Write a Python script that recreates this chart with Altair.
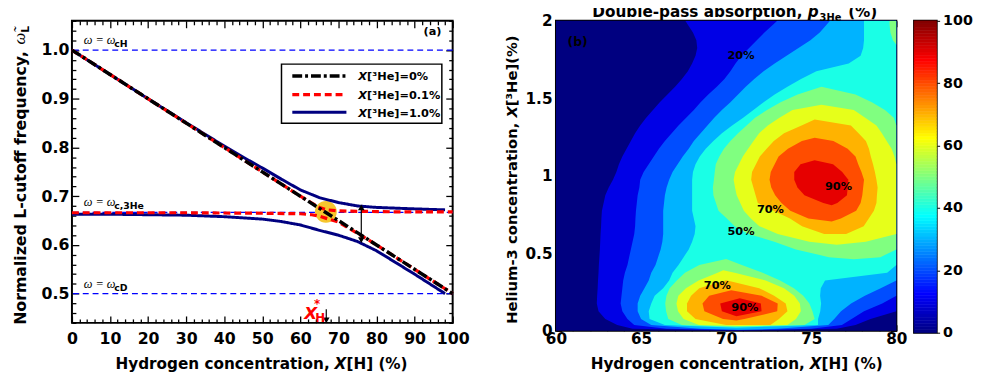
import altair as alt
import pandas as pd

FONT = "DejaVu Sans"
SERIF = "Liberation Serif"

# ================= Panel (a): normalized L-cutoff frequency =================
SERIES = ["X[³He]=0%", "X[³He]=0.1%", "X[³He]=1.0%"]
SERIES_LABEL_REST = ["[³He]=0%", "[³He]=0.1%", "[³He]=1.0%"]
SERIES_COLORS = ["#000000", "#FF0000", "#000080"]
SERIES_DASH = [[10, 3, 3, 3], [7, 4], [1, 0]]
SERIES_WIDTH = [3.5, 3.0, 1.8]

XH_BLACK = [0, 10, 20, 30, 40, 50, 60, 70, 80, 90, 100]
W_BLACK = [1.0, 0.95, 0.90, 0.85, 0.80, 0.75, 0.70, 0.65, 0.60, 0.55, 0.50]

XH_RED_UP = [0, 20, 40, 50, 60, 63, 65, 67, 70, 75, 85, 100]
W_RED_UP = [1.0, 0.90, 0.80, 0.75, 0.70, 0.686, 0.677, 0.672, 0.670, 0.669, 0.668, 0.668]
XH_RED_LO = [0, 30, 50, 60, 63, 65, 67, 70, 75, 80, 90, 100]
W_RED_LO = [0.666, 0.666, 0.665, 0.664, 0.662, 0.659, 0.654, 0.647, 0.624, 0.600, 0.550, 0.500]

XH_BLUE_UP = [0, 10, 20, 30, 40, 45, 50, 55, 60, 65, 70, 75, 80, 90, 98]
W_BLUE_UP = [1.0, 0.95, 0.90, 0.851, 0.803, 0.780, 0.758, 0.735, 0.713, 0.697, 0.687, 0.680, 0.677, 0.674, 0.672]
XH_BLUE_LO = [0, 10, 20, 30, 40, 50, 55, 60, 65, 70, 75, 80, 85, 90, 95, 98]
W_BLUE_LO = [0.663, 0.663, 0.662, 0.661, 0.658, 0.653, 0.648, 0.641, 0.630, 0.620, 0.607, 0.588, 0.564, 0.540, 0.515, 0.500]

REF_LEVELS = [1.0, 0.6667, 0.5]
REF_MAIN = ["ω = ω", "ω = ω", "ω = ω"]
REF_SUB = ["cH", "c,3He", "cD"]
REF_TEXT_X = [3.1, 3.1, 3.1]
REF_TEXT_Y = [1.012, 0.680, 0.512]

X_MAJOR_A = [0, 10, 20, 30, 40, 50, 60, 70, 80, 90, 100]
X_TICKS_A = list(range(0, 101, 2))
Y_MAJOR_A = [0.5, 0.6, 0.7, 0.8, 0.9, 1.0]
Y_TICKS_A = [round(0.44 + 0.02 * i, 2) for i in range(32)]

# ================= Panel (b): double-pass absorption contour bands =================
# scan lines: (y, "band@x_start ...")   band k = 10k..10(k+1) %
SCAN_LINES = [
    (2.000, "0@60 1@67.6 2@73.0 3@76.1 4@78.1 5@79.6"),
    (1.975, "0@60 1@67.75 2@72.75 3@75.9 4@78.1 5@79.6"),
    (1.925, "0@60 1@68.05 2@72.25 3@75.5 4@78.1 5@79.65"),
    (1.875, "0@60 1@68.25 2@71.8 3@74.95 4@78.1 5@79.8"),
    (1.825, "0@60 1@68.3 2@71.35 3@74.25 4@78.05"),
    (1.775, "0@60 1@68.2 2@70.9 3@73.55 4@77.9"),
    (1.725, "0@60 1@68.0 2@70.55 3@72.85 4@77.2"),
    (1.675, "0@60 1@67.75 2@70.25 3@72.2 4@75.3"),
    (1.625, "0@60 1@67.4 2@69.9 3@71.65 4@74.4"),
    (1.575, "0@60 1@67.0 2@69.45 3@71.15 4@73.6"),
    (1.525, "0@60 1@66.55 2@68.95 3@70.7 4@72.85 5@74.2 4@77.6"),
    (1.475, "0@60 1@66.1 2@68.5 3@70.25 4@72.2 5@73.2 4@78.56"),
    (1.425, "0@60 1@65.7 2@68.1 3@69.75 4@71.6 5@72.4 6@73.9 5@77.5 4@79.33"),
    (1.375, "0@60 1@65.3 2@67.65 3@69.3 4@71.0 5@71.7 6@73.13 5@78.17 4@79.85"),
    (1.325, "0@60 1@64.95 2@67.2 3@68.9 4@70.35 5@71.2 6@72.45 7@74.43 6@77.33 5@78.83"),
    (1.275, "0@60 1@64.65 2@66.8 3@68.5 4@69.75 5@70.7 6@71.94 7@73.4 6@77.78 5@79.15"),
    (1.225, "0@60 1@64.4 2@66.4 3@68.1 4@69.25 5@70.25 6@71.61 7@72.8 8@74.45 7@76.3 6@78.21 5@79.43"),
    (1.175, "0@60 1@64.15 2@66.05 3@67.8 4@68.8 5@69.87 6@71.29 7@72.38 8@73.63 7@77.14 6@78.39 5@79.72"),
    (1.125, "0@60 1@63.9 2@65.75 3@67.45 4@68.45 5@69.6 6@70.98 7@71.98 8@73.08 7@77.6 6@78.5 5@79.89"),
    (1.075, "0@60 1@63.7 2@65.45 3@67.15 4@68.2 5@69.39 6@70.75 7@71.75 8@72.85 9@74.37 8@76.28 7@77.76 6@78.63"),
    (1.025, "0@60 1@63.55 2@65.15 3@66.85 4@68.05 5@69.33 6@70.52 7@71.52 8@72.62 9@74.0 8@76.82 7@77.95 6@78.74"),
    (0.975, "0@60 1@63.35 2@64.95 3@66.65 4@68.0 5@69.28 6@70.44 7@71.47 8@72.55 9@74.0 8@77.18 7@78.1 6@78.83"),
    (0.925, "0@60 1@63.1 2@64.9 3@66.5 4@68.0 5@69.22 6@70.52 7@71.6 8@72.65 9@74.19 8@77.14 7@78.05 6@78.9"),
    (0.875, "0@60 1@62.9 2@64.8 3@66.4 4@68.0 5@69.25 6@70.62 7@71.73 8@72.88 9@74.6 8@77.1 7@78.0 6@78.86"),
    (0.825, "0@60 1@62.8 2@64.75 3@66.35 4@68.0 5@69.4 6@70.83 7@71.86 8@73.25 9@75.71 8@76.53 7@77.9 6@78.83"),
    (0.775, "0@60 1@62.7 2@64.7 3@66.3 4@68.0 5@69.55 6@71.04 7@72.78 8@73.77 7@77.64 6@78.68"),
    (0.725, "0@60 1@62.67 2@64.67 3@66.3 4@68.1 5@70.04 6@71.45 7@73.75 8@74.83 7@76.74 6@78.38"),
    (0.675, "0@60 1@62.65 2@64.65 3@66.3 4@68.2 5@70.5 6@71.95 7@74.46 6@78.08"),
    (0.625, "0@60 1@62.62 2@64.6 3@66.3 4@68.15 5@71.3 6@73.03 7@75.76 6@77.05"),
    (0.575, "0@60 1@62.6 2@64.5 3@66.25 4@68.0 5@72.83 6@74.89 5@78.2"),
    (0.525, "0@60 1@62.58 2@64.4 3@66.15 4@67.8 5@74.1"),
    (0.475, "0@60 1@62.55 2@64.3 3@66.0 4@67.5 5@76.04 4@79.06"),
    (0.425, "0@60 1@62.52 2@64.2 3@65.85 4@67.2 5@68.42 4@70.92"),
    (0.375, "0@60 1@62.5 2@64.05 3@65.6 4@66.85 5@67.58 6@69.5 5@70.5 4@72.14 3@79.46"),
    (0.325, "0@60 1@62.47 2@63.95 3@65.45 4@66.65 5@67.1 6@68.38 5@72.32 4@73.17 3@75.81"),
    (0.275, "0@60 1@62.45 2@63.9 3@65.2 4@66.3 5@66.68 6@67.64 7@68.42 6@71.94 5@73.4 4@73.98 3@75.56 2@79.08"),
    (0.225, "0@60 1@62.42 2@63.85 3@64.95 4@65.8 5@66.49 6@67.19 7@67.94 8@69.0 7@72.09 6@72.82 5@74.0 4@74.53 3@75.52 2@78.15"),
    (0.175, "0@60 1@62.4 2@63.8 3@64.8 4@65.6 5@66.42 6@67.08 7@67.7 8@68.61 9@69.65 8@72.04 7@73.03 6@73.5 5@74.33 4@74.89 3@75.58 2@77.34 1@79.17"),
    (0.125, "0@60 1@62.5 2@63.9 3@64.8 4@65.45 5@66.47 6@67.17 7@67.7 8@68.72 9@69.75 8@72.08 7@73.0 6@73.6 5@74.39 4@75.07 3@75.53 2@76.75 1@78.1"),
    (0.075, "0@60 1@62.9 2@64.2 3@65.0 4@65.5 5@66.6 6@67.5 7@68.2 8@69.82 7@71.07 6@73.1 5@74.1 4@75.2 3@75.4 2@76.35 1@77.37 0@78.48"),
    (0.0375, "0@60 1@63.6 2@64.6 3@65.6 4@66.4 5@67.4 6@68.4 7@70.0 6@72.6 5@73.6 4@74.6 3@75.4 2@76.0 1@76.8 0@77.6"),
    (0.0125, "0@60 1@64.5 2@66.5 3@68.5 2@73.0 1@75.0 0@76.5"),
]
# where a band region closes (level %, y, x)
CONTOUR_TIPS = [
    (10, 0.002, 70.5), (20, 0.004, 70.7), (30, 0.006, 70.7), (40, 0.02, 70.6),
    (50, 0.462, 77.5), (50, 1.575, 75.6), (50, 1.845, 80.0), (50, 0.463, 70.0), (50, 0.026, 70.5),
    (60, 1.458, 75.6), (60, 0.555, 76.5), (60, 0.39, 69.83), (60, 0.03, 70.8),
    (70, 1.363, 75.2), (70, 0.608, 76.4), (70, 0.326, 70.0), (70, 0.033, 71.3),
    (80, 1.246, 75.2), (80, 0.705, 76.2), (80, 0.262, 70.3), (80, 0.066, 70.6),
    (90, 1.10, 75.2), (90, 0.81, 76.2), (90, 0.21, 70.8), (90, 0.093, 70.6),
]

CLABEL_X = [70.87, 76.6, 72.6, 70.87, 69.48, 71.1]
CLABEL_Y = [1.77, 0.927, 0.78, 0.635, 0.286, 0.146]
CLABEL_T = ["20%", "90%", "70%", "50%", "70%", "90%"]

X_MAJOR_B = [60, 65, 70, 75, 80]
X_TICKS_B = list(range(60, 81))
Y_MAJOR_B = [0, 0.5, 1, 1.5, 2]
Y_TICKS_B = [round(0.1 * i, 1) for i in range(21)]

CB_VALUES = [0, 20, 40, 60, 80, 100]
CB_STEPS = list(range(100))

JET_STOPS = [0, 12.5, 37.5, 62.5, 87.5, 100]
JET_COLORS = ["#000080", "#0000FF", "#00FFFF", "#FFFF00", "#FF0000", "#800000"]

# ================= sizes =================
W_A, H_A = 387, 307
W_B, H_B = 346, 315
W_C, H_C = 23, 317

XS_A = alt.Scale(domain=[0, 100], nice=False, zero=False)
YS_A = alt.Scale(domain=[0.44, 1.06], nice=False, zero=False)
XS_B = alt.Scale(domain=[60, 80], nice=False, zero=False)
YS_B = alt.Scale(domain=[0, 2], nice=False, zero=False)
JET = alt.Scale(domain=JET_STOPS, range=JET_COLORS, interpolate="rgb")
SC_COLOR = alt.Scale(domain=SERIES, range=SERIES_COLORS)
SC_DASH = alt.Scale(domain=SERIES, range=SERIES_DASH)
SC_WIDTH = alt.Scale(domain=SERIES, range=SERIES_WIDTH)


def ptext(text, x, y, size, weight="bold", style="normal", font=FONT, align="left",
          baseline="alphabetic", angle=0, color="black"):
    return alt.Chart(pd.DataFrame({"t": [text]})).mark_text(
        font=font, fontSize=size, fontWeight=weight, fontStyle=style, align=align,
        baseline=baseline, angle=angle, color=color
    ).encode(x=alt.value(x), y=alt.value(y), text="t:N")


def tick_axis(orient, offset, values, test, major, minor):
    return alt.Axis(orient=orient, offset=offset, values=values, labels=False, domain=False,
                    grid=False, title=None, tickColor="black", tickWidth=1.3,
                    tickSize={"condition": {"test": test, "value": major}, "value": minor})


def axis_layer(df, xs, ys, xaxis, yaxis):
    return alt.Chart(df).mark_point(opacity=0).encode(
        x=alt.X("x:Q", scale=xs, axis=xaxis), y=alt.Y("y:Q", scale=ys, axis=yaxis))


# ---------------- panel (a) layers ----------------
line_rows = []
for name, seg, xs, ys in [
    (SERIES[2], "b_up", XH_BLUE_UP, W_BLUE_UP),
    (SERIES[2], "b_lo", XH_BLUE_LO, W_BLUE_LO),
    (SERIES[1], "r_up", XH_RED_UP, W_RED_UP),
    (SERIES[1], "r_lo", XH_RED_LO, W_RED_LO),
    (SERIES[0], "k", XH_BLACK, W_BLACK),
]:
    for xv, yv in zip(xs, ys):
        line_rows.append({"series": name, "seg": seg, "x": xv, "y": yv})
lines_df = pd.DataFrame(line_rows)

refs = alt.Chart(pd.DataFrame({"level": REF_LEVELS})).mark_rule(
    color="#0000FF", strokeWidth=1.3, strokeDash=[6, 4]
).encode(y=alt.Y("level:Q", scale=YS_A, axis=None))

circle = alt.Chart(pd.DataFrame({"x": [66.7], "y": [0.668]})).mark_point(
    filled=True, size=490, color="#F6C62E", opacity=1, shape="circle"
).encode(x=alt.X("x:Q", scale=XS_A, axis=None), y=alt.Y("y:Q", scale=YS_A, axis=None))


def series_lines(seg_names):
    return alt.Chart(lines_df).transform_filter(
        alt.FieldOneOfPredicate(field="seg", oneOf=seg_names)
    ).mark_line(strokeCap="butt").encode(
        x=alt.X("x:Q", scale=XS_A, axis=None),
        y=alt.Y("y:Q", scale=YS_A, axis=None),
        color=alt.Color("series:N", scale=SC_COLOR, legend=None),
        strokeDash=alt.StrokeDash("series:N", scale=SC_DASH, legend=None),
        strokeWidth=alt.StrokeWidth("series:N", scale=SC_WIDTH, legend=None),
        detail="seg:N",
    )


lines_blue = series_lines(["b_up", "b_lo"])
lines_red = series_lines(["r_up", "r_lo"])
lines_black = series_lines(["k"])

arrow_df = pd.DataFrame({"x": [76.0, 66.8], "y1": [0.674, 0.468], "y2": [0.613, 0.446]})
arrow_rules = alt.Chart(arrow_df).mark_rule(color="black", strokeWidth=1.2).encode(
    x=alt.X("x:Q", scale=XS_A, axis=None), y=alt.Y("y1:Q", scale=YS_A, axis=None), y2="y2:Q")
heads_df = pd.DataFrame({"x": [76.0, 76.0, 66.8], "y": [0.677, 0.610, 0.445],
                         "shape": ["triangle-up", "triangle-down", "triangle-down"]})
arrow_heads = alt.Chart(heads_df).mark_point(filled=True, size=45, color="black", opacity=1,
                                             strokeWidth=0).encode(
    x=alt.X("x:Q", scale=XS_A, axis=None), y=alt.Y("y:Q", scale=YS_A, axis=None),
    shape=alt.Shape("shape:N", scale=None))

ref_txt_df = pd.DataFrame({"x": REF_TEXT_X, "y": REF_TEXT_Y, "main": REF_MAIN, "sub": REF_SUB})
omega_main = alt.Chart(ref_txt_df).mark_text(
    font=SERIF, fontStyle="italic", fontSize=12.5, align="left", baseline="alphabetic", color="black"
).encode(x=alt.X("x:Q", scale=XS_A, axis=None), y=alt.Y("y:Q", scale=YS_A, axis=None), text="main:N")
omega_sub = alt.Chart(ref_txt_df).mark_text(
    font=FONT, fontWeight="bold", fontSize=9.5, align="left", baseline="alphabetic", color="black",
    dx=31, dy=3
).encode(x=alt.X("x:Q", scale=XS_A, axis=None), y=alt.Y("y:Q", scale=YS_A, axis=None), text="sub:N")

ann_df = pd.DataFrame({
    "x": [94.7, 61.0, 63.9, 63.6],
    "y": [1.036, 0.448, 0.4415, 0.478],
    "t": ["(a)", "X", "H", "*"],
    "c": ["black", "#FF0000", "#FF0000", "#FF0000"],
    "s": [11.5, 17, 12, 12],
    "st": ["normal", "italic", "normal", "normal"],
    "al": ["center", "left", "left", "left"],
    "bl": ["middle", "alphabetic", "alphabetic", "middle"],
})
ann_layers = []
for _, r in ann_df.iterrows():
    ann_layers.append(
        alt.Chart(pd.DataFrame([r])).mark_text(
            font=FONT, fontWeight="bold", fontSize=float(r["s"]), fontStyle=r["st"],
            align=r["al"], baseline=r["bl"], color=r["c"]
        ).encode(x=alt.X("x:Q", scale=XS_A, axis=None), y=alt.Y("y:Q", scale=YS_A, axis=None), text="t:N")
    )

# legend box (drawn by hand, inside the plot area)
LEG_X0, LEG_X1, LEG_Y0, LEG_Y1 = 213, 376, 44, 104
LEG_ROW_Y = [56, 75, 93]
legend_box = alt.Chart(pd.DataFrame({"a": [0]})).mark_rect(
    fill="white", stroke="black", strokeWidth=1.5
).encode(x=alt.value(LEG_X0), x2=alt.value(LEG_X1), y=alt.value(LEG_Y0), y2=alt.value(LEG_Y1))
legend_items = []
for i, name in enumerate(SERIES):
    legend_items.append(
        alt.Chart(pd.DataFrame({"series": [name]})).mark_rule(strokeCap="butt").encode(
            x=alt.value(224), x2=alt.value(279), y=alt.value(LEG_ROW_Y[i]),
            color=alt.Color("series:N", scale=SC_COLOR, legend=None),
            strokeDash=alt.StrokeDash("series:N", scale=SC_DASH, legend=None),
            strokeWidth=alt.StrokeWidth("series:N", scale=SC_WIDTH, legend=None),
        )
    )
    legend_items.append(ptext("X", 291, LEG_ROW_Y[i] + 4.5, 11.5, style="italic"))
    legend_items.append(ptext(SERIES_LABEL_REST[i], 300, LEG_ROW_Y[i] + 4.5, 11.5))

axdf_a = pd.DataFrame({"x": [0, 100], "y": [0.44, 1.06]})
ax_a_lab = axis_layer(
    axdf_a, XS_A, YS_A,
    alt.Axis(orient="bottom", values=X_MAJOR_A, format="d", ticks=False, domain=False, grid=False,
             labelFlush=False, labelOverlap=False, labelPadding=8, title=None),
    alt.Axis(orient="left", values=Y_MAJOR_A, format=".1f", ticks=False, domain=False, grid=False,
             labelOverlap=False, labelPadding=3, title=None))
ax_a_in1 = axis_layer(
    axdf_a, XS_A, YS_A,
    tick_axis("top", -H_A, X_TICKS_A, "datum.value % 10 === 0", 7, 4),
    tick_axis("right", -W_A, Y_TICKS_A, "abs(datum.value*10 - round(datum.value*10)) < 0.001", 7, 4))
ax_a_in2 = axis_layer(
    axdf_a, XS_A, YS_A,
    tick_axis("bottom", -H_A, X_TICKS_A, "datum.value % 10 === 0", 7, 4),
    tick_axis("left", -W_A, Y_TICKS_A, "abs(datum.value*10 - round(datum.value*10)) < 0.001", 7, 4))

titles_a = [
    ptext("Hydrogen concentration,", 262, 354, 15.5, align="right"),
    ptext("X", 267, 354, 15.5, style="italic"),
    ptext("[H] (%)", 279, 354, 15.5),
    ptext("Normalized L-cutoff frequency,", -52, 309, 16, angle=270, baseline="middle"),
    ptext("ω\u0303", -53, 24, 17, weight="normal", style="italic", font=SERIF, angle=270, baseline="middle"),
    ptext("L", -47, 12, 11, angle=270, baseline="middle"),
]

panel_a = alt.layer(
    refs, circle, lines_blue, lines_red, lines_black, arrow_rules, arrow_heads,
    omega_main, omega_sub, *ann_layers, legend_box, *legend_items, *titles_a,
    ax_a_lab, ax_a_in1, ax_a_in2
).resolve_axis(x="independent", y="independent").properties(width=W_A, height=H_A)

# ---------------- panel (b): filled contour regions ----------------
scan = []
for yv, spec in SCAN_LINES:
    parts = [p.split("@") for p in spec.split()]
    runs = []
    for i, (band, xs0) in enumerate(parts):
        x0 = float(xs0)
        x1 = float(parts[i + 1][1]) if i + 1 < len(parts) else 80.0
        runs.append((int(band), x0, x1))
    scan.append((yv, runs))
scan.sort(key=lambda s: -s[0])

# region "value >= level" of each band, one connected piece at a time
components = []
for k in range(1, 10):
    open_comps = []
    for yv, runs in scan:
        ivs = []
        for band, x0, x1 in runs:
            if band >= k:
                if ivs and abs(ivs[-1][1] - x0) < 1e-9:
                    ivs[-1][1] = x1
                else:
                    ivs.append([x0, x1])
        new_open = []
        for xl, xr in ivs:
            match = None
            for c in open_comps:
                _, pl, pr = c["pts"][-1]
                if xl <= pr and xr >= pl and c not in new_open:
                    match = c
                    break
            if match is None:
                match = {"level": k * 10, "pts": []}
                components.append(match)
            match["pts"].append((yv, xl, xr))
            new_open.append(match)
        open_comps = new_open

for lev, ty, tx in CONTOUR_TIPS:
    best, bestd = None, 1e9
    for c in components:
        if c["level"] != lev:
            continue
        ys_c = [p[0] for p in c["pts"]]
        end = c["pts"][-1] if abs(ty - min(ys_c)) < abs(ty - max(ys_c)) else c["pts"][0]
        if not (end[1] - 1.0 <= tx <= end[2] + 1.0):
            continue
        d = abs(ty - end[0])
        if d < bestd:
            best, bestd = c, d
    if best is not None:
        best["pts"].append((ty, tx, tx))

# outline of each piece: down the left edge, back up the right edge
poly_rows = []
for ci, c in enumerate(components):
    pts = sorted(c["pts"], key=lambda p: -p[0])
    seq = [(xl, yv) for yv, xl, xr in pts]
    for j, (yv, xl, xr) in enumerate(reversed(pts)):
        is_end = (j == 0) or (j == len(pts) - 1)
        if is_end and abs(xl - xr) < 1e-9:
            continue
        seq.append((xr, yv))
    for j, (xv, yv) in enumerate(seq):
        poly_rows.append({"comp": ci, "level": c["level"], "i": j, "x": xv, "y": yv})
poly_df = pd.DataFrame(poly_rows)

base = alt.Chart(pd.DataFrame({"x0": [60], "x1": [80], "y0": [0], "y1": [2], "level": [0]})).mark_rect().encode(
    x=alt.X("x0:Q", scale=XS_B, axis=None), x2="x1:Q",
    y=alt.Y("y0:Q", scale=YS_B, axis=None), y2="y1:Q",
    color=alt.Color("level:Q", scale=JET, legend=None),
)

band_layers = []
for k in range(1, 10):
    band_layers.append(
        alt.Chart(poly_df).transform_filter(alt.datum.level == k * 10).mark_line(
            filled=True, interpolate="linear-closed", clip=True, strokeWidth=0
        ).encode(
            x=alt.X("x:Q", scale=XS_B, axis=None),
            y=alt.Y("y:Q", scale=YS_B, axis=None),
            color=alt.Color("level:Q", scale=JET, legend=None),
            detail="comp:N",
            order=alt.Order("i:Q"),
        )
    )

clabels = alt.Chart(pd.DataFrame({"x": CLABEL_X, "y": CLABEL_Y, "t": CLABEL_T})).mark_text(
    font=FONT, fontWeight="bold", fontSize=11.5, color="black", align="center", baseline="middle"
).encode(x=alt.X("x:Q", scale=XS_B, axis=None), y=alt.Y("y:Q", scale=YS_B, axis=None), text="t:N")

blabel = alt.Chart(pd.DataFrame({"x": [61.27], "y": [1.86], "t": ["(b)"]})).mark_text(
    font=FONT, fontWeight="bold", fontSize=12.5, color="black", align="center", baseline="middle"
).encode(x=alt.X("x:Q", scale=XS_B, axis=None), y=alt.Y("y:Q", scale=YS_B, axis=None), text="t:N")

axdf_b = pd.DataFrame({"x": [60, 80], "y": [0, 2]})
ax_b_lab = axis_layer(
    axdf_b, XS_B, YS_B,
    alt.Axis(orient="bottom", values=X_MAJOR_B, format="d", ticks=False, domain=False, grid=False,
             labelFlush=False, labelOverlap=False, labelPadding=1, labelFontSize=15.5, title=None),
    alt.Axis(orient="left", values=Y_MAJOR_B, format="~g", ticks=False, domain=False, grid=False,
             labelOverlap=False, labelPadding=4, labelFontSize=15.5, title=None))
ax_b_in1 = axis_layer(
    axdf_b, XS_B, YS_B,
    tick_axis("top", -H_B, X_TICKS_B, "datum.value % 5 === 0", 6, 4),
    tick_axis("right", -W_B, Y_TICKS_B, "abs(datum.value*2 - round(datum.value*2)) < 0.001", 6, 4))
ax_b_in2 = axis_layer(
    axdf_b, XS_B, YS_B,
    tick_axis("bottom", -H_B, X_TICKS_B, "datum.value % 5 === 0", 6, 4),
    tick_axis("left", -W_B, Y_TICKS_B, "abs(datum.value*2 - round(datum.value*2)) < 0.001", 6, 4))

titles_b = [
    ptext("Double-pass absorption,", 37, -4, 15.5),
    ptext("p", 256, -4, 15.5, style="italic"),
    ptext("3He", 268, 0, 10),
    ptext("(%)", 297, -4, 15.5),
    ptext("Hydrogen concentration,", 253, 354, 15.5, align="right"),
    ptext("X", 258, 354, 15.5, style="italic"),
    ptext("[H] (%)", 270, 354, 15.5),
    ptext("Helium-3 concentration,", -44.5, 308, 15, angle=270, baseline="middle"),
    ptext("X", -44.5, 98.3, 15, style="italic", angle=270, baseline="middle"),
    ptext("[³He](%)", -44.5, 86.7, 15, angle=270, baseline="middle"),
]

panel_b = alt.layer(
    base, *band_layers, clabels, blabel, *titles_b, ax_b_lab, ax_b_in1, ax_b_in2
).resolve_axis(x="independent", y="independent").properties(width=W_B, height=H_B)

# ---------------- colorbar ----------------
cb_df = pd.DataFrame({"v0": CB_STEPS, "v1": [v + 1 for v in CB_STEPS], "vc": [v + 0.5 for v in CB_STEPS]})
colorbar = alt.Chart(cb_df).mark_rect(strokeWidth=0.6).encode(
    x=alt.value(0), x2=alt.value(W_C),
    y=alt.Y("v0:Q", scale=alt.Scale(domain=[0, 100], nice=False, zero=False),
            axis=alt.Axis(orient="right", values=CB_VALUES, format="d", tickSize=3, tickColor="black",
                          domain=False, grid=False, labelPadding=3, labelFontSize=14.5,
                          labelOverlap=False, title=None)),
    y2="v1:Q",
    color=alt.Color("vc:Q", scale=JET, legend=None),
    stroke=alt.Stroke("vc:Q", scale=JET, legend=None),
).properties(width=W_C, height=H_C)

right = alt.hconcat(panel_b, colorbar, spacing=18, bounds="flush")

chart = alt.hconcat(panel_a, right, spacing=105, bounds="flush").resolve_scale(
    color="independent", stroke="independent"
).properties(
    padding={"left": 2, "top": -7, "right": 4, "bottom": 2}
).configure_view(
    stroke="black", strokeWidth=2
).configure_axis(
    labelFont=FONT, labelFontSize=16, labelFontWeight="bold", labelColor="black"
)

chart.save("out.html", embed_options={"renderer": "svg", "actions": False})
